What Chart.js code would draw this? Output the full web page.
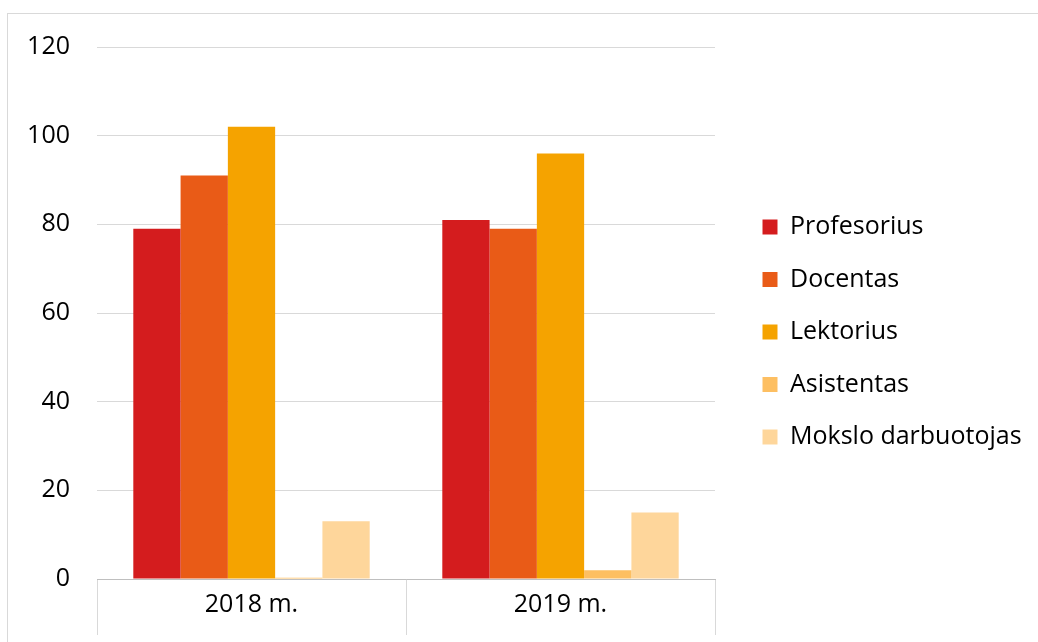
<!DOCTYPE html>
<html lang="lt">
<head>
  <meta charset="UTF-8" />
  <title>Darbuotojai pagal pareigas</title>
  <style>
    html,body{margin:0;padding:0;background:#fff}
    #wrap{position:relative;width:1038px;height:642px;overflow:hidden}
    #frame{position:absolute;left:7px;top:13px;width:1040px;height:640px;border:1px solid #d9d9d9;box-sizing:border-box}
    #chart{position:absolute;left:0;top:0}
  </style>
  <script src="https://cdn.jsdelivr.net/npm/chart.js"></script>
</head>
<body>
<div id="wrap">
  <div id="frame"></div>
  <canvas id="chart" width="1038" height="642"></canvas>
</div>
<script>
const years=['2018 m.','2019 m.'];
const profesorius=[79,81];
const docentas=[91,79];
const lektorius=[102,96];
const asistentas=[0.3,2];
const mokslo=[13,15];
const yTicks=[0,20,40,60,80,100,120];

const font='"Open Sans", sans-serif';
const ds=(label,data,color)=>({label,data,backgroundColor:color,borderWidth:0,categoryPercentage:0.765,barPercentage:1});

// legend gets a fixed width so the long label is never clipped
const legendWidth={id:'legendWidth',afterInit(chart){
  const lg=chart.legend,f=lg.fit;
  lg.fit=function(){f.call(this);this.width=303;};
}};
// empty axes used only as spacers
const spacer=(pos,size)=>({type:'linear',position:pos,display:true,
  grid:{display:false},border:{display:false},ticks:{display:false},
  afterFit:s=>{if(pos==='top')s.height=size;else s.width=size;}});

new Chart(document.getElementById('chart'),{
  type:'bar',
  data:{labels:years,datasets:[
    ds('Profesorius',profesorius,'#d41c1e'),
    ds('Docentas',docentas,'#e95b17'),
    ds('Lektorius',lektorius,'#f5a300'),
    ds('Asistentas',asistentas,'#fdbf62'),
    ds('Mokslo darbuotojas',mokslo,'#fed69b')
  ]},
  plugins:[legendWidth],
  options:{
    responsive:false,animation:false,
    layout:{padding:{left:0,top:22,right:0,bottom:0}},
    plugins:{
      tooltip:{enabled:false},
      legend:{position:'right',align:'center',
        labels:{boxWidth:15,boxHeight:15,padding:27.5,color:'#000',font:{family:font,size:25}}}
    },
    scales:{
      x:{
        grid:{offset:true,drawOnChartArea:false,tickLength:56,color:'#d9d9d9'},
        border:{color:'#bfbfbf'},
        ticks:{color:'#000',padding:-45,font:{family:font,size:25}},
        afterFit:s=>{s.height=63;}
      },
      y:{
        min:0,max:120,
        afterBuildTicks:s=>{s.ticks=yTicks.map(v=>({value:v}));},
        grid:{color:'#d9d9d9',drawTicks:false},
        border:{display:false},
        ticks:{color:'#000',padding:27,font:{family:font,size:25}},
        afterFit:s=>{s.width=97;}
      },
      gapTop:spacer('top',25),
      gapRight:spacer('right',20)
    }
  }
});
</script>
</body>
</html>
